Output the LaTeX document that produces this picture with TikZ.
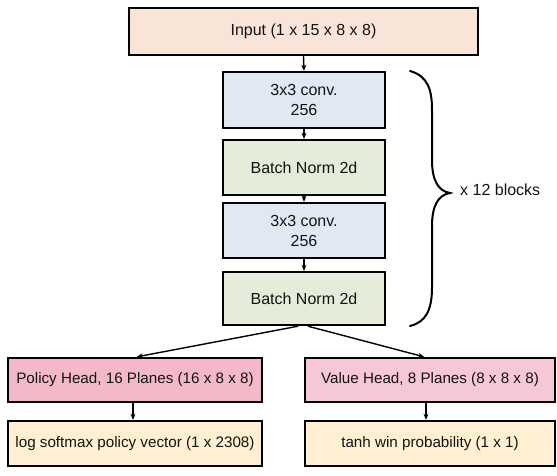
\documentclass[tikz,border=0pt]{standalone}
\usepackage{fontspec}
\setmainfont{Liberation Sans}
\usetikzlibrary{arrows.meta}
\definecolor{cInput}{HTML}{F9E5D8}
\definecolor{cConv}{HTML}{DFE8F3}
\definecolor{cBN}{HTML}{E4EDDA}
\definecolor{cPol}{HTML}{F4B9C9}
\definecolor{cVal}{HTML}{F6C7D5}
\definecolor{cOut}{HTML}{FEF0D0}
\tikzset{
  box/.style={draw=black, line width=2.4pt, rectangle, inner sep=0pt, align=center,
    font=\fontsize{16}{20}\selectfont, text=black!92},
  headbox/.style={box, font=\fontsize{15.2}{19}\selectfont},
  conn/.style={draw=black, line width=1.4pt, -{Stealth[length=6pt,width=5pt]}},
  bracepath/.style={draw=black, line width=2pt, line cap=round},
}
\begin{document}
\begin{tikzpicture}[x=1pt,y=-1pt]
\useasboundingbox (0,0) rectangle (557,475);
\node[box, fill=cInput, minimum width=349pt, minimum height=47pt] (inp) at (303.5,31.5) {Input (1 x 15 x 8 x 8)};
\node[box, fill=cConv, minimum width=162pt, minimum height=56pt] (c1) at (304,100) {3x3 conv.\\256};
\node[box, fill=cBN, minimum width=162pt, minimum height=55pt] (b1) at (304,167.5) {Batch Norm 2d};
\node[box, fill=cConv, minimum width=162pt, minimum height=55pt] (c2) at (304,230.5) {3x3 conv.\\256};
\node[box, fill=cBN, minimum width=162pt, minimum height=53pt] (b2) at (304,298.5) {Batch Norm 2d};
\node[headbox, fill=cPol, minimum width=254pt, minimum height=44pt] (pol) at (135,380) {Policy Head, 16 Planes (16 x 8 x 8)};
\node[headbox, fill=cVal, minimum width=250pt, minimum height=44pt] (val) at (430,380) {Value Head, 8 Planes (8 x 8 x 8)};
\node[headbox, fill=cOut, minimum width=254pt, minimum height=45pt] (lsm) at (135,443.5) {log softmax policy vector (1 x 2308)};
\node[headbox, fill=cOut, minimum width=250pt, minimum height=45pt] (tnh) at (430,443.5) {tanh win probability (1 x 1)};
\node[anchor=west, font=\fontsize{16}{20}\selectfont, text=black!92, inner sep=0pt] (lbl) at (460,190) {x 12 blocks};

\draw[conn] (inp.south) -- (c1.north);
\draw[conn] (c1.south) -- (b1.north);
\draw[conn] (b1.south) -- (c2.north);
\draw[conn] (c2.south) -- (b2.north);
\draw[conn] ([xshift=-6pt]b2.south) -- ([xshift=2pt]pol.north);
\draw[conn] ([xshift=4pt]b2.south) -- ([xshift=-6pt]val.north);
\draw[conn] ([xshift=-2pt]pol.south) -- ([xshift=-2pt]lsm.north);
\draw[conn] ([xshift=-4pt]val.south) -- ([xshift=-4pt]tnh.north);

\draw[bracepath] (410,71) .. controls (428,76) and (432,90) .. (432,110)
  -- (432,160) .. controls (432,180) and (438,191) .. (450,193)
  .. controls (438,195) and (432,206) .. (432,226)
  -- (432,287) .. controls (432,310) and (426,322) .. (410,326);
\end{tikzpicture}
\end{document}
